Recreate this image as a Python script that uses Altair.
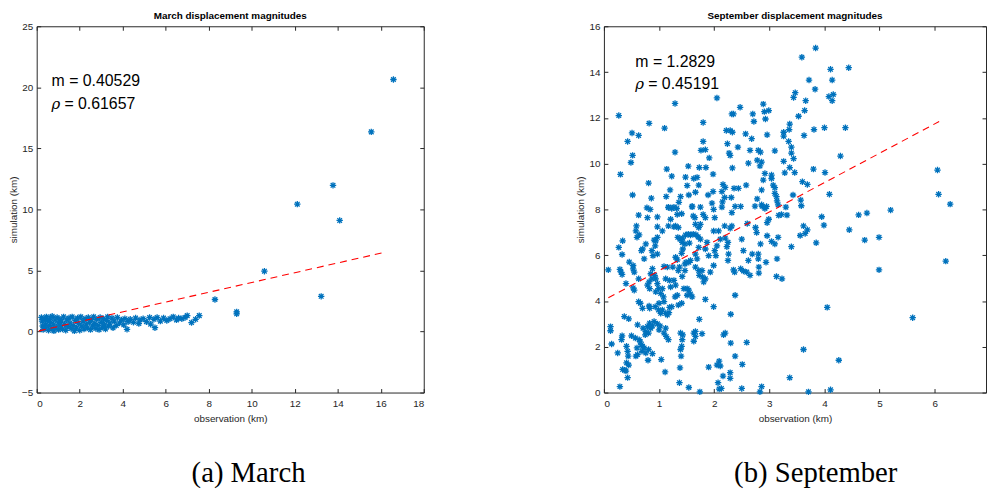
import altair as alt
import pandas as pd

# ---------------- data ----------------
march_points = [
    (0.22, 1.15), (0.25, 0.85), (0.28, 0.45), (0.30, 0.15), (0.35, 1.00), (0.40, 0.60),
    (0.42, 0.30), (0.45, 1.20), (0.50, 0.90), (0.55, 0.10), (0.58, 0.50), (0.62, 1.10),
    (0.65, 0.75), (0.70, 0.25), (0.72, 1.25), (0.78, 0.55), (0.80, 0.05), (0.85, 0.95),
    (0.90, 0.35), (0.95, 1.15), (1.00, 0.70), (1.02, 0.15), (1.08, 1.00), (1.10, 0.45),
    (1.15, 0.85), (1.20, 0.20), (1.25, 1.20), (1.30, 0.60), (1.35, 0.10), (1.40, 0.95),
    (1.45, 0.40), (1.50, 1.10), (1.55, 0.70), (1.60, 0.25), (1.65, 1.20), (1.70, 0.50),
    (1.75, 0.05), (1.80, 0.90), (1.85, 0.30), (1.90, 1.10), (1.95, 0.65), (2.00, 0.10),
    (2.05, 1.20), (2.10, 0.45), (2.15, 0.85), (2.20, 0.20), (2.25, 1.05), (2.30, 0.60),
    (2.35, 0.30), (2.40, 1.15), (2.45, 0.75), (2.50, 0.15), (2.55, 0.95), (2.60, 0.45),
    (2.65, 1.20), (2.70, 0.65), (2.75, 0.25), (2.80, 1.00), (2.85, 0.50), (2.90, 0.15),
    (2.95, 1.15), (3.00, 0.75), (3.05, 0.35), (3.10, 1.05), (3.15, 0.55), (3.20, 0.20),
    (3.25, 0.90), (3.30, 1.20), (3.35, 0.45), (3.40, 0.70), (3.50, 1.10), (3.55, 0.30),
    (3.60, 0.85), (3.70, 0.50), (3.75, 1.15), (3.85, 0.70), (3.95, 0.95), (4.05, 0.55),
    (4.10, 1.05), (4.20, 0.18), (4.25, 0.80), (4.35, 1.00), (4.50, 0.75), (4.60, 1.10),
    (4.75, 0.65), (4.80, 0.95), (4.95, 1.05), (5.10, 0.80), (5.25, 1.15), (5.30, 0.60),
    (5.45, 1.00), (5.50, 0.31), (5.60, 1.15), (5.75, 0.85), (5.90, 1.10), (6.05, 0.90),
    (6.20, 1.05), (6.35, 1.20), (6.50, 0.95), (6.60, 1.10), (6.75, 1.05), (6.90, 1.15),
    (7.00, 1.30), (7.20, 0.73), (7.39, 1.00), (7.56, 1.30),
    (8.29, 2.62), (9.30, 1.61), (9.30, 1.45), (10.59, 4.94), (12.12, 10.43),
    (13.23, 2.88), (13.78, 11.97), (14.09, 9.10), (15.56, 16.35), (16.59, 20.64),
]
march_fit_x = [0.10, 16.16]
march_fit_y = [0.05, 6.48]

sep_points = [
    # upper part (sim > 8)
    (0.27, 12.1), (0.30, 9.53), (0.43, 10.97), (0.51, 11.34), (0.63, 11.23), (0.49, 10.05),
    (0.52, 10.36), (0.52, 8.63), (0.82, 11.76), (0.81, 9.15), (0.86, 8.49), (1.10, 11.55),
    (1.14, 9.76), (1.23, 9.45), (1.20, 8.85), (1.13, 8.56), (1.17, 8.08), (1.29, 12.63),
    (1.29, 10.5), (1.36, 8.31), (1.39, 8.56), (1.48, 9.41), (1.53, 9.89), (1.51, 9.04),
    (1.54, 8.63), (1.60, 8.11), (1.63, 9.35), (1.69, 9.4), (1.73, 9.83), (1.72, 9.06),
    (1.66, 8.75), (1.80, 11.8), (1.80, 10.97), (1.76, 10.58), (1.84, 10.61), (1.91, 10.25),
    (1.85, 9.83), (1.98, 9.54), (2.05, 12.87), (1.89, 8.63), (1.98, 8.78), (1.96, 8.27),
    (2.16, 9.09), (2.14, 8.78), (2.19, 8.52), (2.32, 12.17), (2.35, 12.17), (2.22, 11.45),
    (2.29, 11.45), (2.33, 11.37), (2.24, 10.87), (2.27, 10.46), (2.29, 10.36), (2.33, 9.81),
    (2.20, 8.96), (2.36, 8.92), (2.31, 8.52), (2.47, 12.46), (2.43, 10.72), (2.44, 8.92),
    (2.38, 8.13), (2.48, 8.13), (2.57, 11.3), (2.58, 9.06), (2.62, 10.02), (2.65, 10.58),
    (2.68, 11.09), (2.70, 12.17), (2.72, 11.84), (2.80, 10.58), (2.84, 10.5), (2.78, 10.15),
    (2.83, 9.9), (2.86, 10.07), (2.89, 12.6), (2.91, 12.27), (2.93, 11.95), (2.99, 12.32),
    (2.96, 11.26), (2.92, 9.57), (2.89, 9.28), (2.86, 8.85), (2.78, 8.46), (2.86, 8.2),
    (2.95, 8.13), (3.04, 9.5), (3.04, 9.35), (3.07, 9.06), (3.10, 10.56), (3.10, 8.95),
    (3.10, 8.7), (3.13, 8.56), (3.14, 8.37), (3.16, 8.2), (3.26, 10.1), (3.28, 9.6),
    (3.26, 11.37), (3.26, 11.2), (3.35, 10.97), (3.40, 10.72), (3.40, 10.46), (3.37, 9.83),
    (3.44, 10.22), (3.44, 12.89), (3.43, 8.63),
    (3.84, 15.05), (3.59, 14.65), (4.11, 14.12), (4.44, 14.19), (3.72, 13.65), (4.14, 13.65),
    (3.83, 13.25), (3.47, 13.1), (3.66, 12.75), (4.08, 12.93), (4.16, 13.02), (4.14, 12.75),
    (3.64, 12.32), (3.53, 12.07), (3.37, 11.73), (3.36, 11.49), (3.63, 11.23), (3.81, 11.49),
    (4.00, 11.57), (4.38, 11.57), (3.46, 9.61), (3.80, 9.76), (4.01, 9.61), (4.29, 10.33),
    (3.60, 9.21), (3.69, 9.09), (3.57, 8.41), (3.58, 8.16), (4.09, 8.66), (3.30, 8.1),
    (6.05, 9.72), (6.07, 8.66), (6.28, 8.23),
    # lower part (sim <= 8.3)
    (0.08, 5.36), (0.12, 2.88), (0.12, 2.7), (0.14, 2.12), (0.25, 1.73), (0.29, 0.26),
    (0.27, 6.34), (0.34, 6.63), (0.33, 6.03), (0.29, 5.38), (0.31, 5.26), (0.33, 5.16),
    (0.33, 2.48), (0.32, 2.31), (0.34, 1.01), (0.38, 0.98), (0.40, 0.94), (0.43, 0.65),
    (0.37, 3.32), (0.45, 3.22), (0.40, 4.76), (0.41, 2.02), (0.44, 1.59), (0.43, 1.8),
    (0.41, 1.3), (0.45, 1.2), (0.46, 5.7), (0.53, 5.55), (0.53, 5.4), (0.53, 4.57),
    (0.55, 4.47), (0.50, 2.48), (0.57, 2.38), (0.58, 7.06), (0.59, 7.28), (0.63, 7.75),
    (0.64, 6.89), (0.60, 6.78), (0.55, 5.26), (0.63, 4.97), (0.63, 3.97), (0.66, 3.9),
    (0.70, 3.68), (0.61, 2.96), (0.60, 1.95), (0.61, 1.66), (0.58, 1.59), (0.64, 2.31),
    (0.66, 2.21), (0.68, 2.09), (0.70, 2.02), (0.69, 1.8), (0.73, 1.95), (0.68, 6.2),
    (0.70, 6.27), (0.73, 5.84), (0.76, 6.49), (0.78, 8.07), (0.79, 7.64), (0.84, 8.0),
    (0.71, 2.81), (0.76, 2.67), (0.79, 2.88), (0.81, 2.6), (0.75, 2.52), (0.76, 1.73),
    (0.80, 1.41), (0.81, 1.88), (0.83, 3.03), (0.85, 2.81), (0.88, 2.91), (0.91, 3.1),
    (0.88, 1.7), (0.82, 3.78), (0.83, 3.68), (0.87, 4.97), (0.82, 4.83), (0.79, 4.69),
    (0.83, 4.54), (0.85, 5.19), (0.88, 5.41), (0.92, 5.12), (0.87, 6.2), (0.89, 5.98),
    (0.91, 6.66), (0.94, 6.63), (0.93, 6.41), (0.97, 6.05), (0.97, 7.67), (0.97, 7.24),
    (0.97, 6.78), (0.94, 4.97), (0.97, 4.76), (0.99, 4.54), (0.94, 4.4), (0.93, 3.75),
    (0.99, 3.61), (1.00, 3.9), (1.03, 3.46), (0.97, 3.0), (1.02, 2.91), (1.00, 2.74),
    (1.04, 1.44), (1.11, 0.9), (1.03, 4.33), (1.06, 4.54), (1.08, 4.18), (1.09, 3.97),
    (1.06, 3.61), (1.12, 3.46), (1.09, 5.51), (1.12, 4.97), (1.15, 5.48), (1.06, 7.06),
    (1.17, 8.1), (1.17, 7.28), (1.21, 7.57), (1.23, 8.04), (1.27, 8.1), (1.32, 8.04),
    (1.33, 7.78), (1.30, 7.28), (1.27, 7.24), (1.35, 7.21), (1.41, 7.81), (1.09, 2.6),
    (1.12, 2.81), (1.13, 2.45), (1.17, 2.31), (1.15, 3.39), (1.18, 3.49), (1.19, 3.72),
    (1.23, 3.75), (1.21, 4.61), (1.19, 4.9), (1.27, 4.9), (1.30, 4.69), (1.29, 4.18),
    (1.33, 4.25), (1.35, 3.82), (1.41, 3.9), (1.33, 5.8), (1.30, 5.91), (1.25, 5.48),
    (1.35, 5.33), (1.37, 5.48), (1.34, 6.78), (1.38, 6.7), (1.43, 6.75), (1.48, 6.88),
    (1.53, 6.92), (1.57, 6.88), (1.62, 6.92), (1.67, 6.89), (1.71, 6.8), (1.75, 6.7),
    (1.42, 6.56), (1.47, 6.49), (1.55, 6.53), (1.43, 6.27), (1.41, 6.08), (1.47, 5.62),
    (1.49, 5.69), (1.54, 5.69), (1.57, 5.77), (1.47, 5.33), (1.42, 5.07), (1.45, 4.54),
    (1.51, 4.54), (1.54, 4.47), (1.57, 4.3), (1.60, 4.18), (1.51, 4.25), (1.39, 2.6),
    (1.43, 2.52), (1.42, 2.31), (1.41, 2.02), (1.39, 1.88), (1.40, 1.59), (1.38, 1.08),
    (1.37, 0.43), (1.54, 0.22), (1.63, 2.6), (1.66, 2.67), (1.66, 2.45), (1.63, 2.24),
    (1.73, 3.2), (1.78, 2.57), (1.74, 0.03), (1.84, 4.07), (1.99, 3.75), (1.90, 1.11),
    (2.05, 1.2), (2.09, 1.37), (2.11, 1.16), (2.07, 0.43), (2.09, 0.15), (2.16, 0.72),
    (2.13, 0.18), (2.17, 2.52), (2.20, 2.6), (2.29, 0.87), (2.29, 0.62), (2.30, 2.16),
    (2.30, 3.42), (2.38, 4.25), (2.38, 1.59), (2.51, 1.23), (2.59, 2.19), (2.50, 0.18),
    (2.83, 0.03), (2.86, 0.26), (3.37, 0.65), (1.66, 6.05), (1.72, 6.34), (1.69, 5.84),
    (1.66, 5.48), (1.72, 5.33), (1.73, 5.12), (1.78, 5.33), (1.79, 5.05), (1.84, 4.97),
    (1.81, 4.83), (1.66, 7.35), (1.72, 7.21), (1.75, 7.35), (1.80, 7.78), (1.84, 7.64),
    (1.75, 8.1), (1.60, 8.14), (1.62, 7.71), (1.65, 7.64), (1.87, 6.56), (1.84, 6.27),
    (1.90, 5.98), (1.93, 5.26), (1.99, 5.55), (2.01, 6.2), (1.99, 8.0), (2.01, 7.64),
    (1.99, 7.06), (2.08, 7.06), (2.11, 6.7), (2.05, 6.41), (2.03, 5.98), (2.15, 8.33),
    (2.14, 8.1), (2.19, 7.28), (2.20, 6.75), (2.25, 6.56), (2.23, 6.37), (2.26, 6.05),
    (2.25, 5.77), (2.29, 7.18), (2.32, 7.28), (2.32, 7.86), (2.35, 5.36), (2.37, 5.26),
    (2.50, 6.7), (2.53, 6.2), (2.48, 5.41), (2.53, 5.31), (2.59, 5.26), (2.62, 5.77),
    (2.65, 5.12), (2.69, 6.05), (2.60, 7.38), (2.74, 8.14), (2.75, 7.21), (2.77, 6.99),
    (2.80, 6.05), (2.80, 5.84), (2.81, 5.48), (2.81, 5.22), (2.84, 6.49), (2.87, 8.14),
    (2.92, 8.04), (2.96, 6.85), (2.96, 7.42), (2.99, 7.57), (2.94, 5.69), (3.04, 6.6),
    (3.10, 6.49), (3.13, 5.07), (3.16, 6.78), (3.14, 5.84), (3.17, 7.74), (3.22, 7.78),
    (3.23, 4.97), (3.32, 7.75), (3.40, 6.37),
    (3.62, 7.28), (3.69, 7.11), (3.65, 6.95), (3.56, 6.86), (3.95, 7.68), (3.99, 7.31),
    (3.85, 6.54), (4.45, 7.11), (4.62, 7.76), (4.77, 7.84), (4.73, 6.66), (4.99, 6.78),
    (5.20, 7.97), (4.99, 5.36), (6.20, 5.74), (4.05, 3.72), (5.60, 3.27), (3.62, 1.88),
    (4.26, 1.41), (3.71, 0.03), (4.11, 0.12),
]
sep_fit_x = [0.08, 6.08]
sep_fit_y = [4.14, 11.84]

march_xticks = [0, 2, 4, 6, 8, 10, 12, 14, 16, 18]
march_yticks = [-5, 0, 5, 10, 15, 20, 25]
sep_xticks = [0, 1, 2, 3, 4, 5, 6]
sep_yticks = [0, 2, 4, 6, 8, 10, 12, 14, 16]

march_m_text = "m = 0.40529"
march_rho_text = "= 0.61657"
sep_m_text = "m = 1.2829"
sep_rho_text = "= 0.45191"

# ---------------- styling ----------------
ASTERISK = "M-1,0L1,0M0,-1L0,1M-0.72,-0.72L0.72,0.72M-0.72,0.72L0.72,-0.72"
BLUE = "#0072BD"
AXC = "#262626"
SANS = "Liberation Sans"


def axis(orient, ticks, title, labels=True):
    vertical = orient in ("left", "right")
    kw = dict(
        orient=orient, values=ticks, offset=-4, tickSize=4, domain=False, grid=False,
        tickColor=AXC, tickWidth=1, labels=labels, labelColor=AXC, labelFont=SANS,
        labelFontSize=10, labelPadding=4 if vertical else 6, minExtent=0, maxExtent=200,
    )
    if title:
        kw.update(title=title, titleFont=SANS, titleFontSize=10, titleFontWeight="normal",
                  titleColor=AXC, titlePadding=3 if vertical else 5)
    else:
        kw.update(title=None)
    return alt.Axis(**kw)


def panel(points, fit_x, fit_y, xdom, ydom, xticks, yticks, ann_x, ann_ym, ann_yr,
          m_text, rho_text, title, caption, width, height):
    pts = pd.DataFrame(points, columns=["obs", "sim"])
    fit = pd.DataFrame({"obs": fit_x, "sim": fit_y})
    xs = alt.Scale(domain=xdom, nice=False, zero=False)
    ys = alt.Scale(domain=ydom, nice=False, zero=False)

    scatter = alt.Chart(pts).mark_point(
        shape=ASTERISK, filled=False, color=BLUE, strokeWidth=1.3, size=42, opacity=1
    ).encode(
        x=alt.X("obs:Q", scale=xs, axis=axis("bottom", xticks, "observation (km)")),
        y=alt.Y("sim:Q", scale=ys, axis=axis("left", yticks, "simulation (km)")),
    )
    line = alt.Chart(fit).mark_line(color="#FF0000", strokeDash=[7, 5], strokeWidth=1.1).encode(
        x=alt.X("obs:Q", scale=xs, axis=axis("top", xticks, None, labels=False)),
        y=alt.Y("sim:Q", scale=ys, axis=axis("right", yticks, None, labels=False)),
    )
    ann_df = pd.DataFrame({"x": [ann_x, ann_x], "y": [ann_ym, ann_yr],
                           "t": [m_text, rho_text], "k": ["m", "r"]})
    m_mark = alt.Chart(ann_df).transform_filter(alt.datum.k == "m").mark_text(
        align="left", baseline="middle", font=SANS, fontSize=16, color="black"
    ).encode(x=alt.X("x:Q", scale=xs, axis=None), y=alt.Y("y:Q", scale=ys, axis=None), text="t:N")
    rho_sym = alt.Chart(ann_df).transform_filter(alt.datum.k == "r").mark_text(
        align="left", baseline="middle", font="DejaVu Serif", fontStyle="italic", fontSize=15,
        color="black"
    ).encode(x=alt.X("x:Q", scale=xs, axis=None), y=alt.Y("y:Q", scale=ys, axis=None),
             text=alt.value("ρ"))
    rho_val = alt.Chart(ann_df).transform_filter(alt.datum.k == "r").mark_text(
        align="left", baseline="middle", font=SANS, fontSize=16, color="black", dx=13
    ).encode(x=alt.X("x:Q", scale=xs, axis=None), y=alt.Y("y:Q", scale=ys, axis=None), text="t:N")
    cap = alt.Chart(pd.DataFrame({"t": [caption]})).mark_text(
        align="center", baseline="alphabetic", font="Liberation Serif", fontSize=29, color="black"
    ).encode(x=alt.value(214), y=alt.value(460), text="t:N")

    return alt.layer(scatter, line, m_mark, rho_sym, rho_val, cap).resolve_axis(
        x="independent", y="independent"
    ).properties(
        width=width, height=height,
        title=alt.TitleParams(title, font=SANS, fontSize=10, fontWeight="bold", color="black",
                              offset=0, anchor="middle"),
    )


left = panel(march_points, march_fit_x, march_fit_y, [0, 18], [-5, 25], march_xticks,
             march_yticks, 0.69, 20.48, 18.64, march_m_text, march_rho_text,
             "March displacement magnitudes", "(a) March", 391, 370)
right = panel(sep_points, sep_fit_x, sep_fit_y, [0, 6.93], [0, 16], sep_xticks, sep_yticks,
              0.57, 14.44, 13.47, sep_m_text, sep_rho_text,
              "September displacement magnitudes", "(b) September", 386, 370)

chart = alt.hconcat(left, right, spacing=152).properties(
    padding=0, background="white"
).configure_view(stroke=AXC, strokeWidth=1)

chart.save("out.html", embed_options={"renderer": "svg", "actions": False})
